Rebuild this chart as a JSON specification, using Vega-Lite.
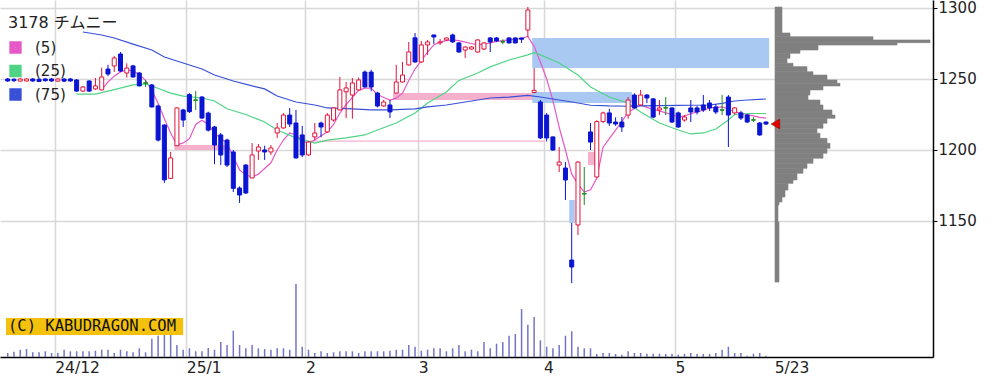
{
"$schema": "https://vega.github.io/schema/vega-lite/v6.json",
"width": 933, "height": 357,
"autosize": "none",
"padding": {"left": 0, "top": 0, "right": 67, "bottom": 29},
"background": "white",
"config": {"view": {"stroke": null}, "font": "DejaVu Sans"},
"datasets": {
"candles": [
{"i":0,"o":1250,"h":1250.7,"l":1248,"c":1248.6},{"i":1,"o":1249.8,"h":1250.5,"l":1248,"c":1248.8},{"i":2,"o":1248.5,"h":1250.7,"l":1248,"c":1250},{"i":3,"o":1248.6,"h":1250.5,"l":1248.2,"c":1250},{"i":4,"o":1250,"h":1250.7,"l":1248,"c":1248.6},{"i":5,"o":1249.8,"h":1250.5,"l":1247.8,"c":1248.3},{"i":6,"o":1250,"h":1250.5,"l":1248.2,"c":1248.8},{"i":7,"o":1250,"h":1250.7,"l":1248,"c":1248.6},{"i":8,"o":1248.5,"h":1250.5,"l":1248,"c":1250},{"i":9,"o":1250,"h":1250.5,"l":1247.8,"c":1248.5},{"i":10,"o":1250,"h":1250.7,"l":1248,"c":1248.6},
{"i":11,"o":1249.3,"h":1250,"l":1241,"c":1241.5},{"i":12,"o":1241.5,"h":1245,"l":1241,"c":1244.4},{"i":13,"o":1248.6,"h":1249,"l":1241,"c":1241.5},{"i":14,"o":1243,"h":1250.7,"l":1242.3,"c":1245.1},{"i":15,"o":1242.3,"h":1258,"l":1242,"c":1251.4},{"i":16,"o":1257,"h":1260,"l":1252,"c":1253.5},{"i":17,"o":1259.2,"h":1266.2,"l":1254.9,"c":1264.8},{"i":18,"o":1267.6,"h":1269,"l":1255,"c":1255.6},{"i":19,"o":1254.2,"h":1261,"l":1251,"c":1257.7},{"i":20,"o":1259.2,"h":1260,"l":1251,"c":1251.4},
{"i":21,"o":1254.2,"h":1255,"l":1245,"c":1245.1},{"i":22,"o":1247,"h":1249.3,"l":1244.4,"c":1247.3},{"i":23,"o":1245.8,"h":1246.5,"l":1230,"c":1230.3},{"i":24,"o":1231,"h":1232,"l":1206,"c":1207},{"i":25,"o":1217.6,"h":1218,"l":1176.8,"c":1179},{"i":26,"o":1180,"h":1198.6,"l":1179.6,"c":1194.4},{"i":27,"o":1203,"h":1230,"l":1202.8,"c":1229.6},{"i":28,"o":1228.2,"h":1229,"l":1216.2,"c":1221.1},{"i":29,"o":1239,"h":1240,"l":1226,"c":1227},{"i":30,"o":1235,"h":1241.5,"l":1228.2,"c":1235.3},
{"i":31,"o":1237.3,"h":1238,"l":1222,"c":1222.5},{"i":32,"o":1226,"h":1227,"l":1213,"c":1214},{"i":33,"o":1216.2,"h":1217,"l":1190,"c":1203.5},{"i":34,"o":1210.6,"h":1212,"l":1189.4,"c":1196.5},{"i":35,"o":1207,"h":1208,"l":1188,"c":1189.4},{"i":36,"o":1198.6,"h":1200,"l":1170.4,"c":1173},{"i":37,"o":1173.2,"h":1174.4,"l":1162.7,"c":1168.3},{"i":38,"o":1189.4,"h":1190,"l":1169,"c":1169.7},{"i":39,"o":1180.3,"h":1204.9,"l":1180,"c":1196.5},{"i":40,"o":1199.3,"h":1204.2,"l":1193,"c":1202.1},
{"i":41,"o":1200,"h":1203,"l":1193,"c":1198.6},{"i":42,"o":1198.6,"h":1203.5,"l":1196.5,"c":1201.4},{"i":43,"o":1212,"h":1219,"l":1208.5,"c":1215.5},{"i":44,"o":1215.5,"h":1226,"l":1215,"c":1224.6},{"i":45,"o":1224.6,"h":1229.6,"l":1216.2,"c":1218.3},{"i":46,"o":1219,"h":1228.2,"l":1194,"c":1194.4},{"i":47,"o":1210.6,"h":1217,"l":1195,"c":1196.5},{"i":48,"o":1196.5,"h":1206,"l":1196,"c":1205.6},{"i":49,"o":1209.2,"h":1219,"l":1207,"c":1212},{"i":50,"o":1219,"h":1220,"l":1209,"c":1216.2},
{"i":51,"o":1212.7,"h":1226,"l":1212,"c":1224.6},{"i":52,"o":1221.1,"h":1230,"l":1220,"c":1229.6},{"i":53,"o":1228.2,"h":1251.4,"l":1228,"c":1242.3},{"i":54,"o":1241,"h":1247.9,"l":1222.5,"c":1243.7},{"i":55,"o":1238.7,"h":1250.7,"l":1222,"c":1247.2},{"i":56,"o":1242.3,"h":1251,"l":1242,"c":1249.3},{"i":57,"o":1254.9,"h":1256,"l":1244,"c":1244.4},{"i":58,"o":1254.9,"h":1256.5,"l":1241.5,"c":1244.4},{"i":59,"o":1240.1,"h":1241,"l":1230,"c":1231},{"i":60,"o":1231,"h":1235.2,"l":1230.3,"c":1233.8},
{"i":61,"o":1231.7,"h":1235.2,"l":1222.5,"c":1226.8},{"i":62,"o":1240.1,"h":1260,"l":1240,"c":1247.9},{"i":63,"o":1247.9,"h":1262,"l":1247.5,"c":1252.8},{"i":64,"o":1259.9,"h":1276.1,"l":1259.5,"c":1269},{"i":65,"o":1279,"h":1282.4,"l":1261.5,"c":1262},{"i":66,"o":1262,"h":1276.8,"l":1261.3,"c":1274},{"i":67,"o":1274,"h":1277.5,"l":1266.9,"c":1276.1},{"i":68,"o":1281,"h":1281.2,"l":1274.7,"c":1279.6},{"i":69,"o":1275.4,"h":1278.2,"l":1274,"c":1276.1},{"i":70,"o":1277.5,"h":1279.3,"l":1277,"c":1278.9},
{"i":71,"o":1281,"h":1282,"l":1275.5,"c":1276.1},{"i":72,"o":1275.4,"h":1276,"l":1268.5,"c":1269},{"i":73,"o":1270.4,"h":1273,"l":1264.8,"c":1272.5},{"i":74,"o":1271.1,"h":1273,"l":1270.7,"c":1272.5},{"i":75,"o":1269,"h":1278,"l":1268.5,"c":1277.5},{"i":76,"o":1271.1,"h":1276,"l":1270.5,"c":1275.4},{"i":77,"o":1278.9,"h":1279.5,"l":1269,"c":1276.1},{"i":78,"o":1278.9,"h":1279.5,"l":1276,"c":1276.8},{"i":79,"o":1276,"h":1278,"l":1274.5,"c":1276.3},{"i":80,"o":1278.9,"h":1279.3,"l":1275,"c":1275.4},
{"i":81,"o":1278.9,"h":1279.3,"l":1275,"c":1275.4},{"i":82,"o":1278.9,"h":1279,"l":1275.4,"c":1278},{"i":83,"o":1284.5,"h":1300.7,"l":1279.6,"c":1298.6},{"i":84,"o":1240.5,"h":1257.7,"l":1240.1,"c":1242},{"i":85,"o":1233.8,"h":1235.2,"l":1207.7,"c":1208.5},{"i":86,"o":1224.6,"h":1226,"l":1206,"c":1208.5},{"i":87,"o":1209.2,"h":1209.5,"l":1199.5,"c":1200},{"i":88,"o":1189.4,"h":1202.1,"l":1184.5,"c":1191.5},{"i":89,"o":1187.3,"h":1191.5,"l":1164.8,"c":1178.9},{"i":90,"o":1122.5,"h":1148.6,"l":1106.3,"c":1117.6},
{"i":91,"o":1147.2,"h":1192,"l":1140.1,"c":1191.5},{"i":92,"o":1169,"h":1188,"l":1161.3,"c":1169.3},{"i":93,"o":1212.7,"h":1219,"l":1200,"c":1205.6},{"i":94,"o":1181,"h":1221,"l":1180.5,"c":1220},{"i":95,"o":1220,"h":1227,"l":1219,"c":1226.1},{"i":96,"o":1226.1,"h":1229,"l":1217,"c":1219},{"i":97,"o":1219.7,"h":1223,"l":1217,"c":1218.3},{"i":98,"o":1219.7,"h":1223.2,"l":1212.7,"c":1216.2},{"i":99,"o":1224.6,"h":1237.3,"l":1222,"c":1235.2},{"i":100,"o":1238.7,"h":1240,"l":1229,"c":1229.6},
{"i":101,"o":1231.7,"h":1242.3,"l":1231,"c":1238.7},{"i":102,"o":1238.7,"h":1239.4,"l":1233,"c":1236.6},{"i":103,"o":1236,"h":1236.5,"l":1222.5,"c":1223.2},{"i":104,"o":1228.2,"h":1235.2,"l":1224.6,"c":1229.6},{"i":105,"o":1229.5,"h":1237.3,"l":1224.6,"c":1229.8},{"i":106,"o":1229.6,"h":1230,"l":1219,"c":1219.7},{"i":107,"o":1226.1,"h":1227,"l":1215.5,"c":1216.2},{"i":108,"o":1221.1,"h":1224.6,"l":1220,"c":1223.2},{"i":109,"o":1229.6,"h":1235.2,"l":1219.7,"c":1226.8},{"i":110,"o":1229.6,"h":1231,"l":1225,"c":1226.8},
{"i":111,"o":1231.7,"h":1238.7,"l":1226.8,"c":1228.2},{"i":112,"o":1233.1,"h":1235.2,"l":1227.5,"c":1229.6},{"i":113,"o":1230.3,"h":1232.4,"l":1225.3,"c":1226.8},{"i":114,"o":1228,"h":1238.7,"l":1224.6,"c":1228.3},{"i":115,"o":1237.3,"h":1238.7,"l":1202.1,"c":1224.6},{"i":116,"o":1226.1,"h":1230.3,"l":1225,"c":1229.6},{"i":117,"o":1226.1,"h":1227.5,"l":1221.1,"c":1222.5},{"i":118,"o":1224.6,"h":1225.3,"l":1219,"c":1219.7},{"i":119,"o":1221,"h":1223.2,"l":1219.7,"c":1221.3},{"i":120,"o":1219,"h":1219.7,"l":1210,"c":1210.6},
{"i":121,"o":1219.7,"h":1220,"l":1217.6,"c":1218.3}
],
"ma": [
{"i":15,"k":"(5)","v":1242.3},{"i":16,"k":"(5)","v":1247.9},{"i":17,"k":"(5)","v":1252},{"i":18,"k":"(5)","v":1255},{"i":19,"k":"(5)","v":1256.3},{"i":20,"k":"(5)","v":1256},{"i":21,"k":"(5)","v":1253},{"i":22,"k":"(5)","v":1249},{"i":23,"k":"(5)","v":1242},{"i":24,"k":"(5)","v":1233},{"i":25,"k":"(5)","v":1222},{"i":26,"k":"(5)","v":1212},{"i":27,"k":"(5)","v":1203.5},{"i":28,"k":"(5)","v":1205},{"i":29,"k":"(5)","v":1208},{"i":30,"k":"(5)","v":1218},{"i":31,"k":"(5)","v":1221},{"i":32,"k":"(5)","v":1218},{"i":33,"k":"(5)","v":1212},{"i":34,"k":"(5)","v":1208},{"i":35,"k":"(5)","v":1204.9},{"i":36,"k":"(5)","v":1195},{"i":37,"k":"(5)","v":1186},{"i":38,"k":"(5)","v":1182.4},{"i":39,"k":"(5)","v":1181},{"i":40,"k":"(5)","v":1183},{"i":41,"k":"(5)","v":1187},{"i":42,"k":"(5)","v":1191},{"i":43,"k":"(5)","v":1200},{"i":44,"k":"(5)","v":1207},{"i":45,"k":"(5)","v":1212},{"i":46,"k":"(5)","v":1210.6},{"i":47,"k":"(5)","v":1206},{"i":48,"k":"(5)","v":1205},{"i":49,"k":"(5)","v":1207},{"i":50,"k":"(5)","v":1210},{"i":51,"k":"(5)","v":1212.7},{"i":52,"k":"(5)","v":1218},{"i":53,"k":"(5)","v":1226},{"i":54,"k":"(5)","v":1232},{"i":55,"k":"(5)","v":1237},{"i":56,"k":"(5)","v":1242},{"i":57,"k":"(5)","v":1243.5},{"i":58,"k":"(5)","v":1243.5},{"i":59,"k":"(5)","v":1239},{"i":60,"k":"(5)","v":1237},{"i":61,"k":"(5)","v":1235.2},{"i":62,"k":"(5)","v":1236.5},{"i":63,"k":"(5)","v":1240},{"i":64,"k":"(5)","v":1249},{"i":65,"k":"(5)","v":1257},{"i":66,"k":"(5)","v":1263},{"i":67,"k":"(5)","v":1269},{"i":68,"k":"(5)","v":1274},{"i":69,"k":"(5)","v":1276.1},{"i":70,"k":"(5)","v":1277},{"i":71,"k":"(5)","v":1277.5},{"i":72,"k":"(5)","v":1277},{"i":73,"k":"(5)","v":1276},{"i":74,"k":"(5)","v":1275},{"i":75,"k":"(5)","v":1274},{"i":76,"k":"(5)","v":1274.5},{"i":77,"k":"(5)","v":1275.4},{"i":78,"k":"(5)","v":1276.5},{"i":79,"k":"(5)","v":1277},{"i":80,"k":"(5)","v":1277.5},{"i":81,"k":"(5)","v":1278},{"i":82,"k":"(5)","v":1278.5},{"i":83,"k":"(5)","v":1280},{"i":84,"k":"(5)","v":1273},{"i":85,"k":"(5)","v":1262},{"i":86,"k":"(5)","v":1250},{"i":87,"k":"(5)","v":1235},{"i":88,"k":"(5)","v":1216},{"i":89,"k":"(5)","v":1200},{"i":90,"k":"(5)","v":1183},{"i":91,"k":"(5)","v":1176},{"i":92,"k":"(5)","v":1170.4},{"i":93,"k":"(5)","v":1172},{"i":94,"k":"(5)","v":1180},{"i":95,"k":"(5)","v":1202},{"i":96,"k":"(5)","v":1208},{"i":97,"k":"(5)","v":1214},{"i":98,"k":"(5)","v":1220},{"i":99,"k":"(5)","v":1226.8},{"i":100,"k":"(5)","v":1229},{"i":101,"k":"(5)","v":1231.7},{"i":102,"k":"(5)","v":1230},{"i":103,"k":"(5)","v":1228.5},{"i":104,"k":"(5)","v":1227.5},{"i":105,"k":"(5)","v":1226.1},{"i":106,"k":"(5)","v":1225},{"i":107,"k":"(5)","v":1223.2},{"i":108,"k":"(5)","v":1224},{"i":109,"k":"(5)","v":1225.5},{"i":110,"k":"(5)","v":1226.8},{"i":111,"k":"(5)","v":1228},{"i":112,"k":"(5)","v":1229.6},{"i":113,"k":"(5)","v":1230},{"i":114,"k":"(5)","v":1230.3},{"i":115,"k":"(5)","v":1229},{"i":116,"k":"(5)","v":1226.8},{"i":117,"k":"(5)","v":1226},{"i":118,"k":"(5)","v":1225},{"i":119,"k":"(5)","v":1224},{"i":120,"k":"(5)","v":1223},{"i":121,"k":"(5)","v":1222.5},
{"i":11,"k":"(25)","v":1239.4},{"i":14,"k":"(25)","v":1239.4},{"i":17,"k":"(25)","v":1242.5},{"i":20,"k":"(25)","v":1245.8},{"i":22,"k":"(25)","v":1246.5},{"i":23,"k":"(25)","v":1245.1},{"i":26,"k":"(25)","v":1240.1},{"i":28,"k":"(25)","v":1238},{"i":31,"k":"(25)","v":1236.6},{"i":33,"k":"(25)","v":1234.5},{"i":35,"k":"(25)","v":1229},{"i":38,"k":"(25)","v":1225},{"i":41,"k":"(25)","v":1219.7},{"i":43,"k":"(25)","v":1214.1},{"i":46,"k":"(25)","v":1208.5},{"i":49,"k":"(25)","v":1204.9},{"i":51,"k":"(25)","v":1207},{"i":54,"k":"(25)","v":1208.5},{"i":57,"k":"(25)","v":1210.6},{"i":59,"k":"(25)","v":1214.1},{"i":62,"k":"(25)","v":1219},{"i":65,"k":"(25)","v":1226.1},{"i":67,"k":"(25)","v":1233.1},{"i":70,"k":"(25)","v":1240.8},{"i":72,"k":"(25)","v":1249},{"i":75,"k":"(25)","v":1254.2},{"i":77,"k":"(25)","v":1258.5},{"i":80,"k":"(25)","v":1263.4},{"i":83,"k":"(25)","v":1267},{"i":84,"k":"(25)","v":1268.5},{"i":85,"k":"(25)","v":1267},{"i":88,"k":"(25)","v":1261.3},{"i":91,"k":"(25)","v":1252.8},{"i":93,"k":"(25)","v":1244.4},{"i":96,"k":"(25)","v":1237.3},{"i":99,"k":"(25)","v":1233.1},{"i":101,"k":"(25)","v":1226.8},{"i":104,"k":"(25)","v":1219},{"i":107,"k":"(25)","v":1214.1},{"i":109,"k":"(25)","v":1211.3},{"i":111,"k":"(25)","v":1212},{"i":113,"k":"(25)","v":1214.8},{"i":115,"k":"(25)","v":1221.1},{"i":116,"k":"(25)","v":1225},{"i":118,"k":"(25)","v":1225.7},{"i":121,"k":"(25)","v":1225.7},
{"i":12,"k":"(75)","v":1283.1},{"i":15,"k":"(75)","v":1281},{"i":17,"k":"(75)","v":1278.9},{"i":20,"k":"(75)","v":1274.6},{"i":23,"k":"(75)","v":1270.4},{"i":25,"k":"(75)","v":1265.5},{"i":28,"k":"(75)","v":1261.3},{"i":31,"k":"(75)","v":1257},{"i":33,"k":"(75)","v":1252.8},{"i":36,"k":"(75)","v":1248.6},{"i":39,"k":"(75)","v":1245.1},{"i":41,"k":"(75)","v":1243},{"i":43,"k":"(75)","v":1238},{"i":46,"k":"(75)","v":1233.8},{"i":49,"k":"(75)","v":1231.7},{"i":51,"k":"(75)","v":1229.6},{"i":55,"k":"(75)","v":1228.9},{"i":58,"k":"(75)","v":1228.2},{"i":61,"k":"(75)","v":1228.2},{"i":65,"k":"(75)","v":1228.9},{"i":67,"k":"(75)","v":1230.3},{"i":70,"k":"(75)","v":1231.7},{"i":73,"k":"(75)","v":1233.8},{"i":75,"k":"(75)","v":1235.2},{"i":77,"k":"(75)","v":1236.6},{"i":80,"k":"(75)","v":1237.3},{"i":83,"k":"(75)","v":1238.4},{"i":85,"k":"(75)","v":1237.3},{"i":88,"k":"(75)","v":1235.2},{"i":91,"k":"(75)","v":1233.1},{"i":93,"k":"(75)","v":1231.5},{"i":96,"k":"(75)","v":1231},{"i":99,"k":"(75)","v":1230.8},{"i":101,"k":"(75)","v":1231},{"i":104,"k":"(75)","v":1231.2},{"i":107,"k":"(75)","v":1231.4},{"i":109,"k":"(75)","v":1231.5},{"i":112,"k":"(75)","v":1231.7},{"i":114,"k":"(75)","v":1232.8},{"i":116,"k":"(75)","v":1234.5},{"i":118,"k":"(75)","v":1235.2},{"i":121,"k":"(75)","v":1235.9}
],
"vol": [
{"i":0,"v":4},{"i":1,"v":5.3},{"i":2,"v":7.3},{"i":3,"v":8},{"i":4,"v":4.7},{"i":5,"v":4.7},{"i":6,"v":5.7},{"i":7,"v":4},{"i":8,"v":4},{"i":9,"v":7.3},{"i":10,"v":5.7},{"i":11,"v":5.7},{"i":12,"v":5.7},{"i":13,"v":5.7},{"i":14,"v":6.3},{"i":15,"v":7.3},{"i":16,"v":7.3},{"i":17,"v":4},{"i":18,"v":7.3},{"i":19,"v":5.7},{"i":20,"v":4.7},{"i":21,"v":8.7},{"i":22,"v":4.7},{"i":23,"v":18.3},{"i":24,"v":21.3},{"i":25,"v":23},{"i":26,"v":24},{"i":27,"v":12},{"i":28,"v":7.3},{"i":29,"v":8.7},{"i":30,"v":5.7},{"i":31,"v":5.7},{"i":32,"v":9},{"i":33,"v":7.3},{"i":34,"v":15},{"i":35,"v":12},{"i":36,"v":26.3},{"i":37,"v":12},{"i":38,"v":8.7},{"i":39,"v":12},{"i":40,"v":8.7},{"i":41,"v":8},{"i":42,"v":7.3},{"i":43,"v":8.7},{"i":44,"v":8.7},{"i":45,"v":7.3},{"i":46,"v":73},{"i":47,"v":10.3},{"i":48,"v":7.3},{"i":49,"v":4},{"i":50,"v":5.7},{"i":51,"v":4},{"i":52,"v":4.7},{"i":53,"v":5.7},{"i":54,"v":5.7},{"i":55,"v":5.7},{"i":56,"v":4},{"i":57,"v":5.7},{"i":58,"v":5.7},{"i":59,"v":5.7},{"i":60,"v":5.7},{"i":61,"v":6.3},{"i":62,"v":7.3},{"i":63,"v":7.3},{"i":64,"v":12},{"i":65,"v":10.3},{"i":66,"v":6.3},{"i":67,"v":7.3},{"i":68,"v":8.7},{"i":69,"v":8.7},{"i":70,"v":5.7},{"i":71,"v":8.7},{"i":72,"v":12},{"i":73,"v":5.7},{"i":74,"v":7.3},{"i":75,"v":5.7},{"i":76,"v":15},{"i":77,"v":8.7},{"i":78,"v":13.3},{"i":79,"v":15},{"i":80,"v":21.3},{"i":81,"v":23},{"i":82,"v":48},{"i":83,"v":32.3},{"i":84,"v":40},{"i":85,"v":16.7},{"i":86,"v":10.3},{"i":87,"v":8.7},{"i":88,"v":12},{"i":89,"v":21.3},{"i":90,"v":25.7},{"i":91,"v":10.3},{"i":92,"v":8.7},{"i":93,"v":8.7},{"i":94,"v":3},{"i":95,"v":4},{"i":96,"v":4},{"i":97,"v":3},{"i":98,"v":2.3},{"i":99,"v":5.7},{"i":100,"v":4},{"i":101,"v":4},{"i":102,"v":3.3},{"i":103,"v":3.3},{"i":104,"v":3.3},{"i":105,"v":3},{"i":106,"v":3.3},{"i":107,"v":2.3},{"i":108,"v":3},{"i":109,"v":4},{"i":110,"v":3},{"i":111,"v":3},{"i":112,"v":3},{"i":113,"v":4},{"i":114,"v":7.3},{"i":115,"v":10.3},{"i":116,"v":4},{"i":117,"v":4},{"i":118,"v":1.3},{"i":119,"v":3.3},{"i":120,"v":4},{"i":121,"v":1.3}
],
"prof": [
{"lo":1282.4,"hi":1300.7,"pv":7},{"lo":1279.8,"hi":1282.4,"pv":15},{"lo":1277.5,"hi":1279.8,"pv":98},{"lo":1275.6,"hi":1277.5,"pv":155},{"lo":1273.9,"hi":1275.6,"pv":122},{"lo":1270.4,"hi":1273.9,"pv":43},{"lo":1268.1,"hi":1270.4,"pv":25},{"lo":1264.6,"hi":1268.1,"pv":15},{"lo":1261.1,"hi":1264.6,"pv":12},{"lo":1258.7,"hi":1261.1,"pv":18},{"lo":1255.1,"hi":1258.7,"pv":32},{"lo":1252.8,"hi":1255.1,"pv":38},{"lo":1249.3,"hi":1252.8,"pv":52},{"lo":1247,"hi":1249.3,"pv":62},{"lo":1245.1,"hi":1247,"pv":65},{"lo":1242.3,"hi":1245.1,"pv":48},{"lo":1238.7,"hi":1242.3,"pv":35},{"lo":1235.2,"hi":1238.7,"pv":33},{"lo":1231.7,"hi":1235.2,"pv":45},{"lo":1228.2,"hi":1231.7,"pv":48},{"lo":1224.6,"hi":1228.2,"pv":57},{"lo":1222.3,"hi":1224.6,"pv":60},{"lo":1218.8,"hi":1222.3,"pv":52},{"lo":1215.3,"hi":1218.8,"pv":48},{"lo":1211.8,"hi":1215.3,"pv":42},{"lo":1208.2,"hi":1211.8,"pv":45},{"lo":1204.7,"hi":1208.2,"pv":52},{"lo":1201.2,"hi":1204.7,"pv":55},{"lo":1197.7,"hi":1201.2,"pv":52},{"lo":1194.2,"hi":1197.7,"pv":48},{"lo":1190.6,"hi":1194.2,"pv":38},{"lo":1187.1,"hi":1190.6,"pv":32},{"lo":1183.6,"hi":1187.1,"pv":28},{"lo":1178.9,"hi":1183.6,"pv":22},{"lo":1176.5,"hi":1178.9,"pv":18},{"lo":1171.8,"hi":1176.5,"pv":13},{"lo":1166.9,"hi":1171.8,"pv":10},{"lo":1163.4,"hi":1166.9,"pv":7},{"lo":1161.3,"hi":1163.4,"pv":4},{"lo":1149.3,"hi":1161.3,"pv":3},{"lo":1107,"hi":1149.3,"pv":4}
],
"gaps": [
{"k":"up","x1":26.6,"x2":34.7,"y1":1200,"y2":1203.5},
{"k":"up","x1":61.5,"x2":83.8,"y1":1235.2,"y2":1240.1},
{"k":"up","x1":47.5,"x2":85.7,"y1":1205.8,"y2":1206.7},
{"k":"up","x1":92.6,"x2":94,"y1":1189.4,"y2":1198.6},
{"k":"down","x1":83.7,"x2":121.5,"y1":1257.7,"y2":1278.9},
{"k":"down","x1":83.7,"x2":99.6,"y1":1233.1,"y2":1240.8},
{"k":"down","x1":89.6,"x2":90.5,"y1":1148.6,"y2":1164.8}
]
},
"resolve": {"scale": {"x": "independent", "y": "independent"}},
"layer": [
{
"data": {"name": "prof"},
"mark": {"type": "rect", "color": "#808080", "stroke": "#808080", "strokeWidth": 0.6},
"encoding": {
"x": {"field": "pv", "type": "quantitative", "axis": null, "scale": {"domain": [-775, 158], "nice": false, "zero": false}},
"x2": {"datum": 0},
"y": {"field": "lo", "type": "quantitative", "axis": null, "scale": {"domain": [1054.22, 1305.63], "nice": false, "zero": false}},
"y2": {"field": "hi"}
}
},
{
"data": {"name": "vol"},
"mark": {"type": "bar", "width": 1.5, "color": "#7474c6"},
"encoding": {
"x": {"field": "i", "type": "quantitative", "axis": null, "scale": {"domain": [-1.229, 147.65], "nice": false, "zero": false, "padding": 0}},
"y": {"field": "v", "type": "quantitative", "axis": null, "scale": {"domain": [0, 357], "nice": false}}
}
},
{
"layer": [
{
"data": {"name": "gaps"},
"mark": {"type": "rect"},
"encoding": {
"x": {"field": "x1", "type": "quantitative", "title": null,
"scale": {"domain": [-1.229, 147.65], "nice": false, "zero": false, "padding": 0},
"axis": {"orient": "bottom", "values": [7.5, 28.5, 47.5, 65.5, 85.5, 106.5, 122.3],
"labelExpr": "datum.value < 10 ? '24/12' : datum.value < 30 ? '25/1' : datum.value < 50 ? '2' : datum.value < 70 ? '3' : datum.value < 90 ? '4' : datum.value < 110 ? '5' : '5/23'",
"grid": true, "gridColor": {"condition": {"test": "datum.value > 120", "value": "transparent"}, "value": "#d8d8d8"}, "gridWidth": 1.5,
"ticks": false, "domainColor": "#000000", "domainWidth": 1.5, "labelAlign": "left", "labelFont": "DejaVu Sans", "labelFontSize": 15.5, "labelColor": "#222222", "labelPadding": 3, "labelOverlap": false, "labelFlush": false, "labelBound": false, "title": null}},
"x2": {"field": "x2"},
"y": {"field": "y1", "type": "quantitative", "title": null,
"scale": {"domain": [1054.22, 1305.63], "nice": false, "zero": false},
"axis": {"orient": "right", "values": [1150, 1200, 1250, 1300], "format": "d", "grid": true, "gridColor": "#d8d8d8", "gridWidth": 1.5,
"tickColor": "#000000", "tickSize": 4, "domainColor": "#000000", "domainWidth": 1.5, "labelFont": "DejaVu Sans", "labelFontSize": 15, "labelColor": "#222222", "labelPadding": 1, "title": null}},
"y2": {"field": "y2"},
"fill": {"field": "k", "type": "nominal", "legend": null, "scale": {"domain": ["up", "down"], "range": ["#f5b1cc", "#a9c8f2"]}}
}
},
{
"data": {"name": "ma"},
"mark": {"type": "line", "strokeWidth": 1.2},
"encoding": {
"x": {"field": "i", "type": "quantitative", "title": null, "scale": {"domain": [-1.229, 147.65], "nice": false, "zero": false, "padding": 0}},
"y": {"field": "v", "type": "quantitative", "title": null, "scale": {"domain": [1054.22, 1305.63], "nice": false, "zero": false}},
"color": {"field": "k", "type": "nominal",
"scale": {"domain": ["(5)", "(25)", "(75)"], "range": ["#e658c8", "#4fd486", "#3850d8"]},
"legend": {"orient": "none", "legendX": 8, "legendY": 15, "title": "3178 チムニー", "titleFont": "DejaVu Sans, Noto Sans CJK JP", "titleFontSize": 16, "titleFontWeight": "normal", "titleColor": "#222222", "titlePadding": 9,
"labelFont": "DejaVu Sans", "labelFontSize": 15, "labelColor": "#222222", "labelOffset": 12, "symbolType": "square", "symbolSize": 40, "symbolStrokeWidth": 6, "rowPadding": -7.5, "padding": 0}}
}
},
{
"data": {"name": "candles"},
"mark": {"type": "rule", "strokeWidth": 1},
"encoding": {
"x": {"field": "i", "type": "quantitative", "title": null, "scale": {"domain": [-1.229, 147.65], "nice": false, "zero": false, "padding": 0}},
"y": {"field": "l", "type": "quantitative", "title": null, "scale": {"domain": [1054.22, 1305.63], "nice": false, "zero": false}},
"y2": {"field": "h"},
"stroke": {"condition": [{"test": "abs(datum.c - datum.o) < 0.6", "value": "#1a8a22"}, {"test": "datum.c > datum.o", "value": "#e0143c"}], "value": "#0a14d2"}
}
},
{
"data": {"name": "candles"},
"mark": {"type": "bar", "width": 4, "strokeWidth": 1},
"encoding": {
"x": {"field": "i", "type": "quantitative", "title": null, "scale": {"domain": [-1.229, 147.65], "nice": false, "zero": false, "padding": 0}},
"y": {"field": "o", "type": "quantitative", "title": null, "scale": {"domain": [1054.22, 1305.63], "nice": false, "zero": false}},
"y2": {"field": "c"},
"fill": {"condition": [{"test": "abs(datum.c - datum.o) < 0.6", "value": "#1a8a22"}, {"test": "datum.c > datum.o", "value": "#ffffff"}], "value": "#0a14d2"},
"stroke": {"condition": [{"test": "abs(datum.c - datum.o) < 0.6", "value": "#1a8a22"}, {"test": "datum.c > datum.o", "value": "#e0143c"}], "value": "#0a14d2"}
}
},
{
"data": {"name": "candles"},
"transform": [{"filter": "datum.i == 121"}],
"mark": {"type": "point", "shape": "triangle-left", "filled": true, "size": 100, "color": "#e00000", "stroke": "#900000", "strokeWidth": 0.5, "opacity": 1},
"encoding": {
"x": {"datum": 122.5, "type": "quantitative", "scale": {"domain": [-1.229, 147.65], "nice": false, "zero": false, "padding": 0}},
"y": {"field": "c", "type": "quantitative", "title": null, "scale": {"domain": [1054.22, 1305.63], "nice": false, "zero": false}}
}
},
{
"data": {"values": [{"label": "(C) KABUDRAGON.COM"}]},
"mark": {"type": "rect", "fill": "#f4c20d"},
"encoding": {
"x": {"datum": -0.27, "type": "quantitative", "scale": {"domain": [-1.229, 147.65], "nice": false, "zero": false, "padding": 0}},
"x2": {"datum": 28},
"y": {"datum": 1069.7, "type": "quantitative", "scale": {"domain": [1054.22, 1305.63], "nice": false, "zero": false}},
"y2": {"datum": 1081.7}
}
},
{
"data": {"values": [{"label": "(C) KABUDRAGON.COM"}]},
"mark": {"type": "text", "align": "left", "baseline": "middle", "font": "DejaVu Sans Mono", "fontSize": 15.5, "color": "#111111"},
"encoding": {
"x": {"datum": 0.05, "type": "quantitative", "scale": {"domain": [-1.229, 147.65], "nice": false, "zero": false, "padding": 0}},
"y": {"datum": 1075.9, "type": "quantitative", "scale": {"domain": [1054.22, 1305.63], "nice": false, "zero": false}},
"text": {"field": "label"}
}
}
]
}
]
}
